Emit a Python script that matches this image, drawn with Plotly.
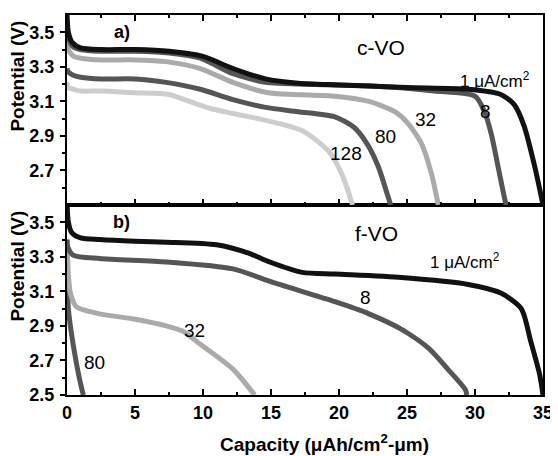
import plotly.graph_objects as go

# ---------------- data ----------------
# Panel a) c-VO
cvo_1_x = [0, 0.1, 0.4, 1, 2.5, 5, 7.5, 10, 12.2, 14.6, 17, 20, 25, 29.5, 31.9, 32.9, 33.6, 34.4, 35]
cvo_1_y = [3.62, 3.5, 3.44, 3.41, 3.40, 3.40, 3.39, 3.36, 3.29, 3.23, 3.205, 3.195, 3.18, 3.17, 3.14, 3.08, 2.96, 2.72, 2.5]

cvo_8_x = [0, 0.1, 0.4, 1, 2.5, 5, 7.5, 9.8, 12.2, 14.6, 17, 22.2, 27, 30.0, 30.7, 31.2, 31.7, 32.2, 32.3]
cvo_8_y = [3.56, 3.47, 3.42, 3.40, 3.39, 3.39, 3.38, 3.35, 3.26, 3.21, 3.20, 3.19, 3.16, 3.13, 3.04, 2.91, 2.72, 2.53, 2.5]

cvo_32_x = [0, 0.1, 0.5, 1, 2.5, 5, 7.3, 9.8, 12.2, 14.8, 19.7, 22.2, 24.1, 25.1, 26.1, 26.8, 27.3]
cvo_32_y = [3.47, 3.40, 3.36, 3.35, 3.34, 3.34, 3.33, 3.29, 3.21, 3.15, 3.13, 3.10, 3.04, 2.97, 2.85, 2.68, 2.5]

cvo_80_x = [0, 0.1, 0.5, 1, 2.5, 5, 7.3, 9.8, 12.2, 14.6, 17, 19.7, 21.1, 22.1, 22.9, 23.6, 23.8]
cvo_80_y = [3.29, 3.27, 3.25, 3.24, 3.23, 3.23, 3.21, 3.17, 3.11, 3.065, 3.04, 3.01, 2.95, 2.85, 2.72, 2.55, 2.5]

cvo_128_x = [0, 0.1, 0.5, 1, 2.5, 5, 7.5, 9.0, 10.5, 12.2, 14.6, 17.3, 19.25, 20.2, 21.0]
cvo_128_y = [3.21, 3.18, 3.17, 3.16, 3.16, 3.15, 3.14, 3.10, 3.06, 3.03, 2.99, 2.93, 2.81, 2.68, 2.5]

# Panel b) f-VO
fvo_1_x = [0, 0.1, 0.35, 1, 2.4, 5, 7.3, 11, 13.4, 14.9, 17.3, 19.7, 24.6, 29.5, 31.9, 33.4, 34.1, 34.75, 35]
fvo_1_y = [3.62, 3.5, 3.44, 3.41, 3.40, 3.39, 3.385, 3.37, 3.32, 3.27, 3.21, 3.20, 3.18, 3.14, 3.09, 3.0, 2.81, 2.62, 2.5]

fvo_8_x = [0, 0.05, 0.45, 2.4, 7.3, 12.2, 15.2, 19.7, 22.2, 24.6, 26.6, 28.0, 29.3, 29.4]
fvo_8_y = [3.40, 3.36, 3.31, 3.29, 3.27, 3.23, 3.15, 3.04, 2.97, 2.88, 2.77, 2.65, 2.53, 2.5]

fvo_32_x = [0, 0.1, 0.25, 0.7, 2.4, 4.9, 7.3, 8.5, 9.7, 12.2, 13.8]
fvo_32_y = [3.40, 3.20, 3.09, 3.01, 2.97, 2.94, 2.90, 2.87, 2.80, 2.65, 2.5]

fvo_80_x = [0, 0.1, 0.5, 0.9, 1.2]
fvo_80_y = [3.35, 3.0, 2.77, 2.6, 2.5]

x_tick_vals = [0, 5, 10, 15, 20, 25, 30, 35]
y_ticks_top = [2.7, 2.9, 3.1, 3.3, 3.5]
y_ticks_bottom = [2.5, 2.7, 2.9, 3.1, 3.3, 3.5]
y_minor = [2.6, 2.8, 3.0, 3.2, 3.4]

BLACK = "#111111"
DARK = "#555555"
LIGHT = "#aaaaaa"
LIGHTEST = "#cdcdcd"

FONT = "Liberation Sans, Arial, sans-serif"

fig = go.Figure()

def add(x, y, color, xa, ya):
    fig.add_trace(go.Scatter(x=x, y=y, mode="lines",
                             line=dict(color=color, width=5, shape="spline", smoothing=0.7),
                             xaxis=xa, yaxis=ya, showlegend=False, hoverinfo="skip"))

# draw lighter curves first, black on top
add(cvo_128_x, cvo_128_y, LIGHTEST, "x2", "y2")
add(cvo_80_x, cvo_80_y, DARK, "x2", "y2")
add(cvo_32_x, cvo_32_y, LIGHT, "x2", "y2")
add(cvo_8_x, cvo_8_y, DARK, "x2", "y2")
add(cvo_1_x, cvo_1_y, BLACK, "x2", "y2")

add(fvo_80_x, fvo_80_y, DARK, "x", "y")
add(fvo_32_x, fvo_32_y, LIGHT, "x", "y")
add(fvo_8_x, fvo_8_y, DARK, "x", "y")
add(fvo_1_x, fvo_1_y, BLACK, "x", "y")

tickfont = dict(family=FONT, size=18, color="black", weight="bold")

xcommon = dict(range=[0, 35], tickmode="array", tickvals=x_tick_vals,
               ticks="inside", ticklen=6, tickwidth=2, tickcolor="black",
               minor=dict(tickmode="linear", tick0=2.5, dtick=5, ticks="inside", ticklen=3,
                          tickwidth=2, tickcolor="black"),
               showline=True, linewidth=2, linecolor="black",
               showgrid=False, zeroline=False, tickfont=tickfont)

ycommon = dict(range=[2.5, 3.6], tickmode="array",
               ticks="outside", ticklen=5, tickwidth=2, tickcolor="black",
               minor=dict(tickmode="array", tickvals=y_minor, ticks="outside", ticklen=3,
                          tickwidth=2, tickcolor="black"),
               showline=True, linewidth=2, linecolor="black", mirror=True,
               showgrid=False, zeroline=False, tickfont=tickfont, ticklabelstandoff=2)

# the page body adds an 8 px offset, so the figure is 8 px smaller and margins are shifted
fig.update_layout(
    width=550, height=448,
    margin=dict(l=59, r=13, t=5, b=61),
    paper_bgcolor="white", plot_bgcolor="white",
    xaxis=dict(**xcommon, anchor="y", domain=[0, 1], mirror=True, showticklabels=True),
    yaxis=dict(**ycommon, anchor="x", domain=[0, 0.5], tickvals=y_ticks_bottom),
    xaxis2=dict(**xcommon, anchor="y2", domain=[0, 1], mirror="ticks", showticklabels=False),
    yaxis2=dict(**ycommon, anchor="x2", domain=[0.5, 1], tickvals=y_ticks_top),
    showlegend=False,
)

def label(text, x, y, xa, ya, size=18, bold=False):
    fig.add_annotation(text=text, x=x, y=y, xref=xa, yref=ya, showarrow=False,
                       xanchor="center", yanchor="middle",
                       font=dict(family=FONT, size=size, color="black",
                                 weight="bold" if bold else "normal"))

# panel a annotations
label("a)", 4.03, 3.50, "x2", "y2", size=18, bold=True)
label("c-VO", 23.07, 3.41, "x2", "y2", size=21)
label("1 \u03bcA/cm<sup>2</sup>", 31.5, 3.226, "x2", "y2", size=17)
label("8", 30.75, 3.04, "x2", "y2", size=19)
label("32", 26.36, 2.995, "x2", "y2", size=19)
label("80", 23.43, 2.897, "x2", "y2", size=19)
label("128", 20.5, 2.80, "x2", "y2", size=19)

# panel b annotations
label("b)", 4.03, 3.50, "x", "y", size=18, bold=True)
label("f-VO", 22.77, 3.433, "x", "y", size=21)
label("1 \u03bcA/cm<sup>2</sup>", 29.29, 3.277, "x", "y", size=17)
label("8", 21.97, 3.064, "x", "y", size=19)
label("32", 9.37, 2.874, "x", "y", size=19)
label("80", 2.05, 2.69, "x", "y", size=19)

# axis titles
for ypos in (0.838, 0.338):
    fig.add_annotation(text="Potential (V)", xref="paper", yref="paper", x=0, y=ypos,
                       xshift=-49, textangle=-90, showarrow=False,
                       xanchor="center", yanchor="middle",
                       font=dict(family=FONT, size=19, color="black", weight="bold"))

fig.add_annotation(text="Capacity (\u03bcAh/cm<sup>2</sup>-\u03bcm)", xref="paper", yref="paper",
                   x=0.54, y=0, yshift=-48, showarrow=False,
                   xanchor="center", yanchor="middle",
                   font=dict(family=FONT, size=19, color="black", weight="bold"))

fig.write_html("out.html")
